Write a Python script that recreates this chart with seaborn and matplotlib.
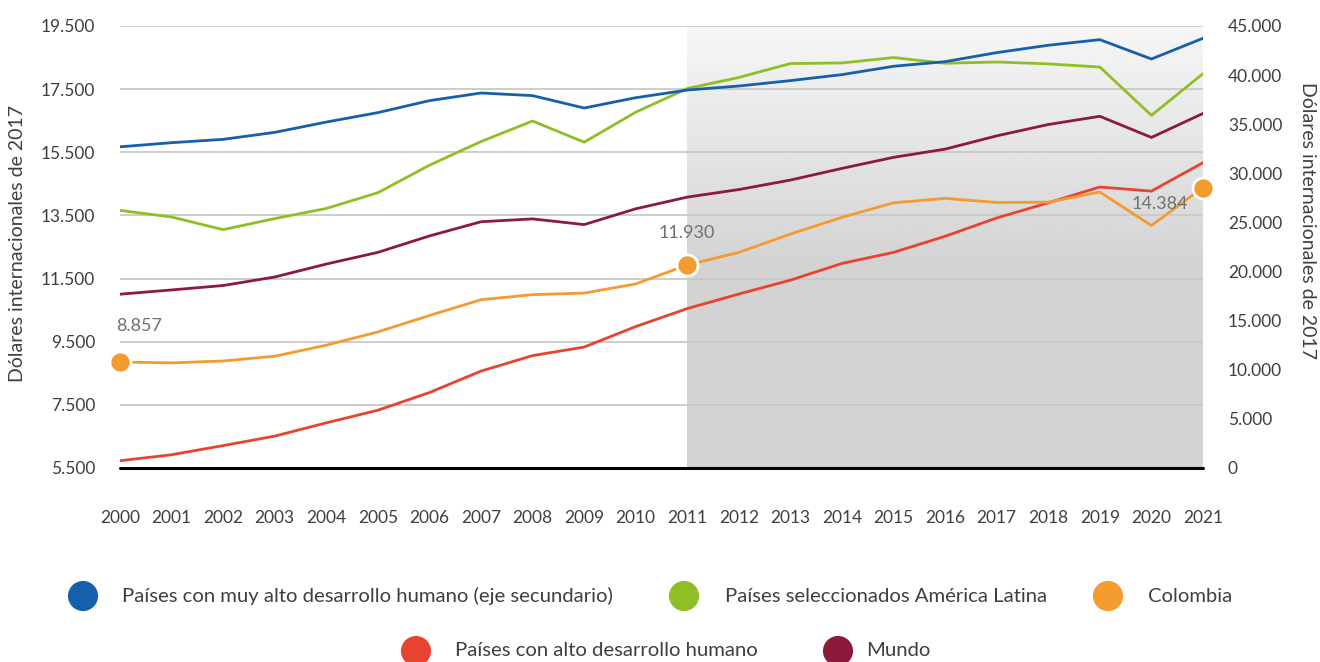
import numpy as np
import pandas as pd
import matplotlib
matplotlib.use("Agg")
import matplotlib.pyplot as plt
from matplotlib.ticker import FuncFormatter, FixedLocator
import seaborn as sns

years = list(range(2000, 2022))
muy_alto = [32700, 33120, 33460, 34170, 35220, 36180, 37400, 38180, 37910, 36650, 37700,
            38480, 38890, 39440, 40050, 40900, 41370, 42290, 43040, 43610, 41640, 43750]
america_latina = [13660, 13450, 13050, 13400, 13720, 14220, 15090, 15840, 16490, 15820, 16770,
                  17520, 17870, 18310, 18330, 18500, 18320, 18360, 18300, 18200, 16670, 17990]
colombia = [8857, 8830, 8890, 9040, 9390, 9810, 10330, 10830, 10990, 11040, 11330,
            11930, 12330, 12910, 13440, 13900, 14040, 13910, 13920, 14240, 13180, 14384]
alto = [5730, 5920, 6210, 6510, 6930, 7330, 7890, 8570, 9060, 9330, 9980,
        10550, 11010, 11450, 11980, 12330, 12840, 13420, 13900, 14400, 14270, 15170]
mundo = [11005, 11140, 11280, 11550, 11960, 12330, 12850, 13300, 13390, 13210, 13710,
         14080, 14320, 14620, 14990, 15340, 15600, 16020, 16380, 16640, 15970, 16730]

labels = {
    "muy_alto": "Países con muy alto desarrollo humano (eje secundario)",
    "al": "Países seleccionados América Latina",
    "col": "Colombia",
    "alto": "Países con alto desarrollo humano",
    "mundo": "Mundo",
}
colors = {
    "muy_alto": "#1560aa",
    "al": "#8fbf25",
    "col": "#f49b30",
    "alto": "#e8432f",
    "mundo": "#8c1a3a",
}
highlight_years = [2000, 2011, 2021]
left_ticks = [5500, 7500, 9500, 11500, 13500, 15500, 17500, 19500]
right_ticks = [0, 5000, 10000, 15000, 20000, 25000, 30000, 35000, 40000, 45000]
ylabel = "Dólares internacionales de 2017"

sns.set_style("white")
plt.rcParams["font.family"] = ["Lato", "DejaVu Sans"]

fmt = FuncFormatter(lambda v, p: f"{int(round(v)):,}".replace(",", "."))

fig = plt.figure(figsize=(13.2, 6.62), dpi=100)
ax = fig.add_axes([120 / 1320, 1 - 468 / 662, (1203 - 120) / 1320, (468 - 26) / 662])
ax2 = ax.twinx()

# shaded gradient region 2011-2021
grad = np.linspace(0, 1, 256)
shade = np.clip(0.965 - (0.965 - 0.826) * grad / 0.55, 0.826, 0.965)
img = np.repeat(shade[:, None], 2, axis=1)
ax.imshow(img, cmap="gray", vmin=0, vmax=1, extent=[2011, 2021, 5500, 19500],
          aspect="auto", zorder=0, origin="upper", interpolation="bilinear")

df = pd.DataFrame({
    "year": years * 4,
    "value": alto + colombia + mundo + america_latina,
    "serie": ["alto"] * 22 + ["col"] * 22 + ["mundo"] * 22 + ["al"] * 22,
})
sns.lineplot(data=df, x="year", y="value", hue="serie", palette=colors,
             hue_order=["alto", "col", "mundo", "al"], ax=ax, legend=False,
             linewidth=2.0, zorder=3)

df_col = pd.DataFrame({"year": years, "value": colombia})
df_hl = df_col[df_col["year"].isin(highlight_years)]
sns.scatterplot(data=df_hl, x="year", y="value", ax=ax, color=colors["col"], s=230,
                edgecolor="white", linewidth=2, zorder=5, legend=False, clip_on=False)

df_blue = pd.DataFrame({"year": years, "value": muy_alto})
sns.lineplot(data=df_blue, x="year", y="value", ax=ax2, color=colors["muy_alto"],
             linewidth=2.0, legend=False)

ax.set_xlim(2000, 2021)
ax.set_ylim(5500, 19500)
ax2.set_ylim(0, 45000)
ax.yaxis.set_major_locator(FixedLocator(left_ticks))
ax2.yaxis.set_major_locator(FixedLocator(right_ticks))
ax.yaxis.set_major_formatter(fmt)
ax2.yaxis.set_major_formatter(fmt)
ax.set_xticks(years)
ax.set_xticklabels([str(y) for y in years])

ax.grid(axis="y", color="#c9c9c9", linewidth=1.3, zorder=1)
ax.grid(axis="x", visible=False)
ax.set_axisbelow(True)
for a in (ax, ax2):
    for s in a.spines.values():
        s.set_visible(False)
    a.set_xlabel("")
    a.set_ylabel("")
ax.axhline(5500, color="black", linewidth=2.2, zorder=6, clip_on=False)

ax.tick_params(axis="y", length=0, pad=18, labelsize=12.5, labelcolor="#3f3f3f")
ax2.tick_params(axis="y", length=0, pad=18, labelsize=12.5, labelcolor="#3f3f3f")
ax.tick_params(axis="x", length=0, pad=30, labelsize=12.5, labelcolor="#3f3f3f")

# value annotations
ann_color = "#707070"
ax.annotate(fmt(colombia[0], None), xy=(years[0], colombia[0]), xytext=(-4, 36),
            textcoords="offset pixels", ha="left", va="center", fontsize=13, color=ann_color)
i11 = years.index(2011)
ax.annotate(fmt(colombia[i11], None), xy=(2011, colombia[i11]), xytext=(-1, 32),
            textcoords="offset pixels", ha="center", va="center", fontsize=13, color=ann_color)
ax.annotate(fmt(colombia[-1], None), xy=(years[-1], colombia[-1]), xytext=(-43, -16),
            textcoords="offset pixels", ha="center", va="center", fontsize=13, color=ann_color)

fig.text(18 / 1320, 1 - 243 / 662, ylabel, rotation=90, ha="center", va="center",
         fontsize=14, color="#3f3f3f")
fig.text(1308 / 1320, 1 - 221 / 662, ylabel, rotation=270, ha="center", va="center",
         fontsize=14, color="#3f3f3f")

# legend
lax = fig.add_axes([0, 0, 1, 1], zorder=-1)
lax.set_xlim(0, 1320)
lax.set_ylim(662, 0)
lax.axis("off")
entries = [("muy_alto", 83, 122, 596), ("al", 684, 725, 596), ("col", 1108, 1148, 596),
           ("alto", 416, 455, 651), ("mundo", 838, 866, 651)]
for key, cx, tx, cy in entries:
    lax.scatter([cx], [cy], s=470, color=colors[key], edgecolor="none", clip_on=False)
    lax.text(tx, cy, labels[key], ha="left", va="center", fontsize=14.6, color="#3f3f3f")

fig.savefig("out.png", dpi=100)
